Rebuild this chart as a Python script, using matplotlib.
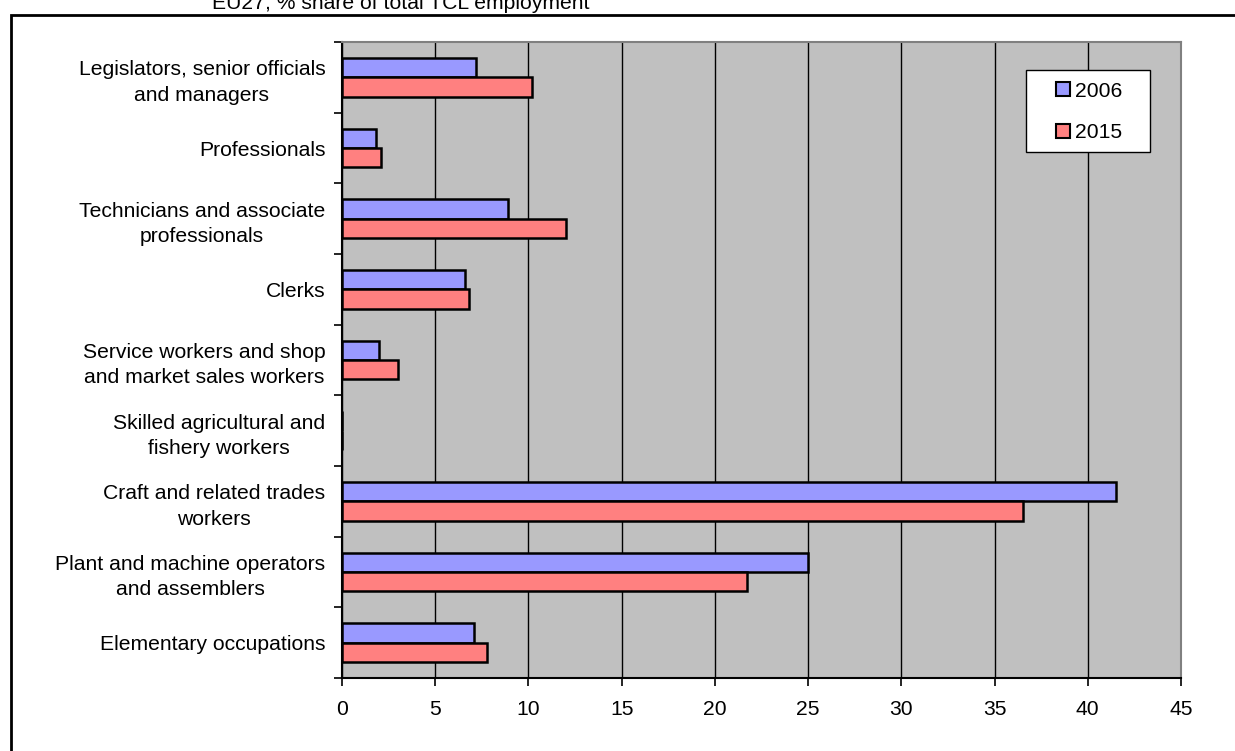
import matplotlib
matplotlib.use("Agg")
from matplotlib import pyplot as plt
import numpy as np

plt.rcParams['font.family'] = ['Liberation Sans', 'DejaVu Sans']

categories = ["Legislators, senior officials\nand managers", "Professionals",
              "Technicians and associate\nprofessionals", "Clerks",
              "Service workers and shop\nand market sales workers",
              "Skilled agricultural and\nfishery workers",
              "Craft and related trades\nworkers",
              "Plant and machine operators\nand assemblers",
              "Elementary occupations"]
share_2006 = [7.2, 1.8, 8.9, 6.6, 2.0, 0.0, 41.5, 25.0, 7.1]
share_2015 = [10.2, 2.1, 12.0, 6.8, 3.0, 0.0, 36.5, 21.7, 7.8]
years = ["2006", "2015"]
xticks = [0, 5, 10, 15, 20, 25, 30, 35, 40, 45]

fs = 15.2
W, H = 1235, 751
fig = plt.figure(figsize=(12.35, 7.51), dpi=100)
ax = fig.add_axes([342 / W, 1 - 678 / H, (1181 - 342) / W, (678 - 42) / H])
ax.set_facecolor("#c0c0c0")

y = np.arange(len(categories))
h = 0.275
ax.barh(y - h / 2, share_2006, height=h, color="#9999ff", edgecolor="black", linewidth=1.8, label=years[0], zorder=3)
ax.barh(y + h / 2, share_2015, height=h, color="#ff8080", edgecolor="black", linewidth=1.8, label=years[1], zorder=3)

ax.set_xlim(0, 45)
ax.set_ylim(len(categories) - 0.5, -0.5)
ax.set_xticks(xticks)
ax.set_xticklabels([str(t) for t in xticks], fontsize=fs)
ax.set_yticks(y)
ax.set_yticklabels(categories, fontsize=fs, multialignment="center", linespacing=1.42)
ax.set_yticks(np.arange(len(categories) + 1) - 0.5, minor=True)
ax.tick_params(axis="y", which="major", length=0, pad=12)
ax.tick_params(axis="y", which="minor", length=6, width=1.2, direction="out")
ax.tick_params(axis="x", length=6, width=1.2, direction="out", pad=10)
ax.xaxis.grid(True, color="black", linewidth=1, zorder=1)
ax.set_axisbelow(True)

for s in ["left", "bottom"]:
    ax.spines[s].set_linewidth(1.5)
    ax.spines[s].set_color("black")
for s in ["top", "right"]:
    ax.spines[s].set_linewidth(1.5)
    ax.spines[s].set_color("#808080")

# legend box drawn separately so its padding can match the reference
ax.add_patch(plt.Rectangle((1026 / W, 1 - 152 / H), 124 / W, 82 / H,
                           transform=fig.transFigure, facecolor="white",
                           edgecolor="black", linewidth=1, zorder=5, clip_on=False))
leg = ax.legend(loc="center left", bbox_to_anchor=(1056 / W, 1 - 112 / H),
                bbox_transform=fig.transFigure, frameon=False,
                fontsize=fs, handlelength=0.65, handleheight=0.65,
                handletextpad=0.25, labelspacing=1.08, borderpad=0, borderaxespad=0)
leg.set_zorder(6)
for p in leg.get_patches():
    p.set_linewidth(1.5)

# outer chart frame, right and bottom sides fall outside the image
fig.patches.append(plt.Rectangle((11 / W, -0.1), 1.2, 1 - 15 / H + 0.1,
                                 transform=fig.transFigure, fill=False,
                                 edgecolor="black", linewidth=2))
fig.text(401 / W, 1 - 9 / H, "EU27, % share of total TCL employment",
         ha="center", va="baseline", fontsize=fs)

fig.savefig("out.png", dpi=100)
